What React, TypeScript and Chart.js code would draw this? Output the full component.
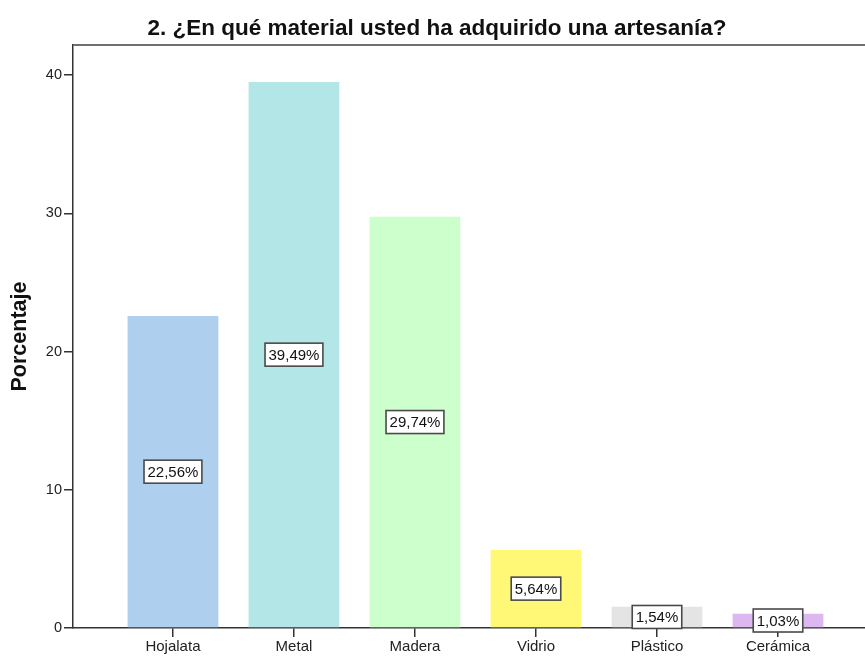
import React, { useEffect, useRef } from "react";
import { Chart, registerables } from "chart.js";

Chart.register(...registerables);

const TITLE = "2. ¿En qué material usted ha adquirido una artesanía?";
const Y_TITLE = "Porcentaje";
const CATEGORIES = ["Hojalata", "Metal", "Madera", "Vidrio", "Plástico", "Cerámica"];
const VALUES = [22.56, 39.49, 29.74, 5.64, 1.54, 1.03];
const COLORS = ["#afcfee", "#b3e6e7", "#ccffcc", "#fff876", "#e4e4e4", "#ddb8f0"];
const Y_TICKS = [0, 10, 20, 30, 40];

const FONT = "'Liberation Sans', Arial, sans-serif";

const fmt = (v: number) => v.toFixed(2).replace(".", ",") + "%";

const overlay = {
  id: "overlay",
  afterDraw(chart: any) {
    const ctx = chart.ctx;
    const area = chart.chartArea;
    ctx.save();
    // top border line
    ctx.strokeStyle = "#707070";
    ctx.lineWidth = 2;
    ctx.beginPath();
    ctx.moveTo(area.left, area.top);
    ctx.lineTo(area.right, area.top);
    ctx.stroke();

    // title
    ctx.fillStyle = "#111";
    ctx.font = `bold 22.5px ${FONT}`;
    ctx.textAlign = "center";
    ctx.textBaseline = "middle";
    ctx.fillText(TITLE, 437, 29);

    // y title
    ctx.save();
    ctx.translate(20, (area.top + area.bottom) / 2);
    ctx.rotate(-Math.PI / 2);
    ctx.font = `bold 21.5px ${FONT}`;
    ctx.fillText(Y_TITLE, 0, 0);
    ctx.restore();

    // value label boxes
    const meta = chart.getDatasetMeta(0);
    ctx.font = `15px ${FONT}`;
    meta.data.forEach((bar: any, i: number) => {
      const text = fmt(VALUES[i]);
      const cx = bar.x;
      const cy = (bar.y + bar.base) / 2;
      const w = ctx.measureText(text).width + 7;
      const h = 23;
      ctx.fillStyle = "#ffffff";
      ctx.fillRect(cx - w / 2, cy - h / 2, w, h);
      ctx.strokeStyle = "#4a4a4a";
      ctx.lineWidth = 1.6;
      ctx.strokeRect(cx - w / 2, cy - h / 2, w, h);
      ctx.fillStyle = "#111";
      ctx.textAlign = "center";
      ctx.textBaseline = "middle";
      ctx.fillText(text, cx, cy + 1);
    });
    ctx.restore();
  },
};

export default function App() {
  const ref = useRef<HTMLCanvasElement | null>(null);
  useEffect(() => {
    if (!ref.current) return;
    const chart = new Chart(ref.current, {
      type: "bar",
      data: {
        datasets: [
          {
            data: CATEGORIES.map((_, i) => ({ x: i, y: VALUES[i] })),
            backgroundColor: COLORS,
            borderWidth: 0,
            barPercentage: 0.75,
            categoryPercentage: 1,
          },
        ],
      },
      options: {
        animation: false,
        responsive: false,
        layout: { padding: { top: 45, left: 0, right: 0, bottom: 0 } },
        plugins: {
          legend: { display: false },
          tooltip: { enabled: false },
          title: { display: false },
        },
        scales: {
          x: {
            type: "linear",
            offset: false,
            min: -0.826,
            max: 5.719,
            afterBuildTicks: (s: any) => {
              s.ticks = CATEGORIES.map((_, i) => ({ value: i }));
            },
            afterFit: (s: any) => {
              s.height = 28;
            },
            ticks: {
              callback: (v: any) => CATEGORIES[v] ?? "",
              color: "#222",
              font: { family: FONT, size: 15 },
              padding: 1,
              maxRotation: 0,
              autoSkip: false,
            },
            grid: {
              offset: false,
              drawOnChartArea: false,
              drawTicks: true,
              tickLength: 9,
              color: "#333",
              lineWidth: 1.5,
            },
            border: { display: true, color: "#333", width: 1.5 },
          },
          y: {
            min: 0,
            max: 42.17,
            afterBuildTicks: (s: any) => {
              s.ticks = Y_TICKS.map((v) => ({ value: v }));
            },
            afterFit: (s: any) => {
              s.width = 73;
            },
            ticks: {
              color: "#222",
              font: { family: FONT, size: 14.5 },
              padding: 2,
            },
            grid: {
              drawOnChartArea: false,
              drawTicks: true,
              tickLength: 9,
              color: "#333",
              lineWidth: 1.5,
            },
            border: { display: true, color: "#333", width: 1.5 },
          },
        },
      },
      plugins: [overlay],
    } as any);
    return () => chart.destroy();
  }, []);
  return (
    <div style={{ position: "absolute", left: 0, top: 0, width: 865, height: 656, background: "#fff" }}>
      <canvas ref={ref} width={865} height={656} style={{ display: "block" }} />
    </div>
  );
}
